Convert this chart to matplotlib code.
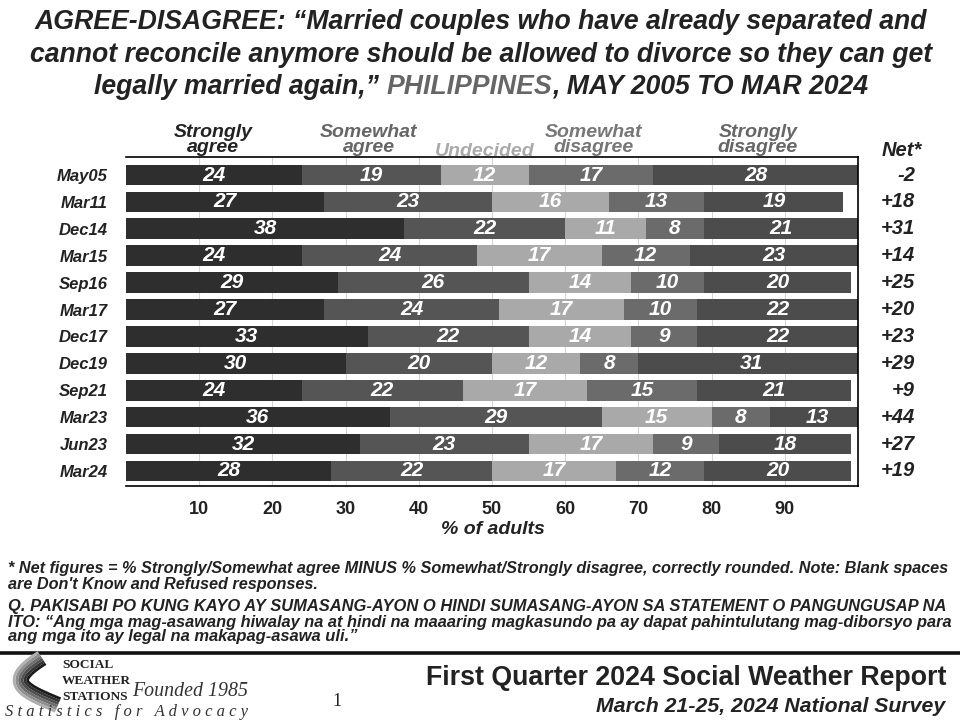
"""
SWS divorce survey chart - stacked horizontal bars
"""

import matplotlib
matplotlib.use("Agg")
import matplotlib.pyplot as plt
import numpy as np
from matplotlib.lines import Line2D

# ---- data -------------------------------------------------------------
periods = ["May05", "Mar11", "Dec14", "Mar15", "Sep16", "Mar17",
           "Dec17", "Dec19", "Sep21", "Mar23", "Jun23", "Mar24"]
strongly_agree = [24, 27, 38, 24, 29, 27, 33, 30, 24, 36, 32, 28]
somewhat_agree = [19, 23, 22, 24, 26, 24, 22, 20, 22, 29, 23, 22]
undecided = [12, 16, 11, 17, 14, 17, 14, 12, 17, 15, 17, 17]
somewhat_disagree = [17, 13, 8, 12, 10, 10, 9, 8, 15, 8, 9, 12]
strongly_disagree = [28, 19, 21, 23, 20, 22, 22, 31, 21, 13, 18, 20]
net = ["-2", "+18", "+31", "+14", "+25", "+20", "+23", "+29", "+9", "+44", "+27", "+19"]

categories = ["Strongly\nagree", "Somewhat\nagree", "Undecided",
              "Somewhat\ndisagree", "Strongly\ndisagree"]
xticks = [10, 20, 30, 40, 50, 60, 70, 80, 90]

# ---- style ------------------------------------------------------------
W, H = 960, 720
NARROW = ["Liberation Sans Narrow", "Liberation Sans", "DejaVu Sans"]
SANS = ["Liberation Sans", "DejaVu Sans"]
SERIF = ["Liberation Serif", "DejaVu Serif"]
bar_colors = ["#2e2e2e", "#555555", "#a9a9a9", "#6b6b6b", "#4c4c4c"]
head_colors = ["#222222", "#666666", "#aaaaaa", "#777777", "#666666"]
head_x = [213, 369, 485, 594, 758]
head_y = [140, 140, 151, 140, 140]

fig = plt.figure(figsize=(W / 100, H / 100), dpi=100)
renderer = fig.canvas.get_renderer()


def fx(x):
    return x / W


def fy(y):
    return 1 - y / H


def fit(x, y, s, width, size=12, **kw):
    t = fig.text(fx(x), fy(y), s, fontsize=size, **kw)
    w = t.get_window_extent(renderer).width
    t.set_fontsize(size * width / w)
    return t


# ---- bars -------------------------------------------------------------
ax = fig.add_axes([fx(126), fy(486), (858 - 126) / W, (486 - 157) / H])
series = [strongly_agree, somewhat_agree, undecided, somewhat_disagree, strongly_disagree]
y = np.arange(len(periods))
left = np.zeros(len(periods))
for vals, col in zip(series, bar_colors):
    vals = np.array(vals, dtype=float)
    ax.barh(y, vals, left=left, height=0.77, color=col, zorder=2)
    for yi, l, v in zip(y, left, vals):
        ax.text(l + v / 2, yi, f"{int(v)}", ha="center", va="center", color="white",
                fontsize=15, fontweight="bold", fontstyle="italic", family=SANS, zorder=3)
    left += vals

ax.set_xlim(0, 100)
ax.set_ylim(len(periods) - 1 + 0.56, -0.67)
ax.set_xticks(xticks)
ax.set_xticklabels([str(t) for t in xticks], fontsize=13, fontweight="bold", family=SANS,
                   color="#222222")
ax.set_yticks(y)
ax.set_yticklabels(periods, fontsize=12, fontweight="bold", fontstyle="italic",
                   family=SANS, color="#222222")
ax.tick_params(axis="both", length=0)
ax.tick_params(axis="x", pad=11)
ax.tick_params(axis="y", pad=13)
ax.xaxis.grid(True, color="#d6d6d6", lw=0.8)
ax.set_axisbelow(True)
ax.spines["left"].set_visible(False)
for s in ["top", "bottom", "right"]:
    ax.spines[s].set_linewidth(1.2)
    ax.spines[s].set_color("black")

for yi, n in zip(y, net):
    ax.text(1.078, yi, n, transform=ax.get_yaxis_transform(), ha="right", va="center",
            fontsize=14.5, fontweight="bold", fontstyle="italic", family=SANS, color="#222222")

# ---- headers ----------------------------------------------------------
for lab, col, hx, hy in zip(categories, head_colors, head_x, head_y):
    fig.text(fx(hx), fy(hy), lab, ha="center", va="center", ma="center", color=col,
             fontsize=14, fontweight="bold", fontstyle="italic", family=SANS,
             linespacing=0.85)
fig.text(fx(902), fy(150), "Net*", ha="center", va="center", fontsize=14.5,
         fontweight="bold", fontstyle="italic", family=SANS, color="#222222")
fig.text(fx(493), fy(529), "% of adults", ha="center", va="center", fontsize=14,
         fontweight="bold", fontstyle="italic", family=SANS, color="#222222")

# ---- title ------------------------------------------------------------
tkw = dict(fontweight="bold", fontstyle="italic", family=NARROW, va="center", color="#222222")
t1 = fit(481, 22, "AGREE-DISAGREE: \u201cMarried couples who have already separated and",
         893, ha="center", **tkw)
tsize = t1.get_fontsize()
fig.text(fx(481), fy(55), "cannot reconcile anymore should be allowed to divorce so they can get",
         ha="center", fontsize=tsize, **tkw)
p1 = "legally married again,\u201d"
p2 = "PHILIPPINES"
p3 = ", MAY 2005 TO MAR 2024"
full = p1 + " " + p2 + p3


def width_of(s):
    t = fig.text(0, 0, s, fontsize=tsize, **tkw)
    w = t.get_window_extent(renderer).width
    t.remove()
    return w


wfull = width_of(full)
x0 = 481 - wfull / 2
x2 = x0 + width_of(p1 + " " + p2) - width_of(p2)
x3 = x0 + wfull - width_of(p3)
fig.text(fx(x0), fy(87), p1, ha="left", fontsize=tsize, **tkw)
tkw2 = dict(tkw, color="#666666")
fig.text(fx(x2), fy(87), p2, ha="left", fontsize=tsize, **tkw2)
fig.text(fx(x3), fy(87), p3, ha="left", fontsize=tsize, **tkw)

# ---- footnotes --------------------------------------------------------
nkw = dict(fontweight="bold", fontstyle="italic", family=NARROW, va="center",
           ha="left", color="#222222")
n1 = fit(8, 568, "* Net figures = % Strongly/Somewhat agree MINUS % Somewhat/Strongly "
         "disagree, correctly rounded. Note: Blank spaces", 940, **nkw)
fig.text(fx(8), fy(584), "are Don't Know and Refused responses.",
         fontsize=n1.get_fontsize(), **nkw)
q1 = fit(8, 607, "Q. PAKISABI PO KUNG KAYO AY SUMASANG-AYON O HINDI SUMASANG-AYON SA "
         "STATEMENT O PANGUNGUSAP NA", 938, **nkw)
fit(8, 622, "ITO: \u201cAng mga mag-asawang hiwalay na at hindi na maaaring magkasundo pa "
    "ay dapat pahintulutang mag-diborsyo para", 940, **nkw)
fig.text(fx(8), fy(637), "ang mga ito ay legal na makapag-asawa uli.\u201d",
         fontsize=q1.get_fontsize(), **nkw)

# ---- footer -----------------------------------------------------------
fig.add_artist(Line2D([0, 1], [fy(653), fy(653)], color="#111111", lw=2.6))
fit(946, 678, "First Quarter 2024 Social Weather Report", 519, ha="right", va="center",
    fontweight="bold", family=NARROW, color="#222222")
fit(945, 706, "March 21-25, 2024 National Survey", 348, ha="right", va="center",
    fontweight="bold", fontstyle="italic", family=NARROW, color="#222222")
fig.text(fx(337), fy(701), "1", ha="center", va="center", fontsize=13, family=SERIF,
         color="#222222")

# logo swoosh: diagonal band from top right, bend at left, sweep to lower right
tt = np.linspace(0, 1, 80)
ctrl = np.array([[42, 658], [4, 682], [22, 690], [58, 705]], dtype=float)
bern = np.stack([(1 - tt) ** 3, 3 * (1 - tt) ** 2 * tt, 3 * (1 - tt) * tt ** 2, tt ** 3], axis=1)
path = bern @ ctrl
d = np.gradient(path, axis=0)
d /= np.linalg.norm(d, axis=1, keepdims=True)
normal = np.stack([-d[:, 1], d[:, 0]], axis=1)
stripe_cols = ["#1a1a1a", "#333333", "#505050", "#6e6e6e", "#8e8e8e", "#b0b0b0"]
for k, c in enumerate(stripe_cols):
    off = path + normal * (k - 2.5) * 2.7
    fig.add_artist(Line2D(fx(off[:, 0]), fy(off[:, 1]), color=c, lw=2.0,
                          solid_capstyle="butt"))

lkw = dict(fontweight="bold", family=SERIF, color="#222222", va="center", ha="left")
ls = fit(62, 697, "STATIONS", 66, **lkw).get_fontsize()
fig.text(fx(62), fy(665), "SOCIAL", fontsize=ls, **lkw)
fig.text(fx(62), fy(681), "WEATHER", fontsize=ls, **lkw)
fit(132, 691, "Founded 1985", 116, fontstyle="italic", family=SERIF,
    color="#333333", va="center", ha="left")
fit(5, 712, "S t a t i s t i c s   f o r   A d v o c a c y", 243, fontstyle="italic",
    family=SERIF, color="#333333", va="center", ha="left")

fig.savefig("out.png", dpi=100)
